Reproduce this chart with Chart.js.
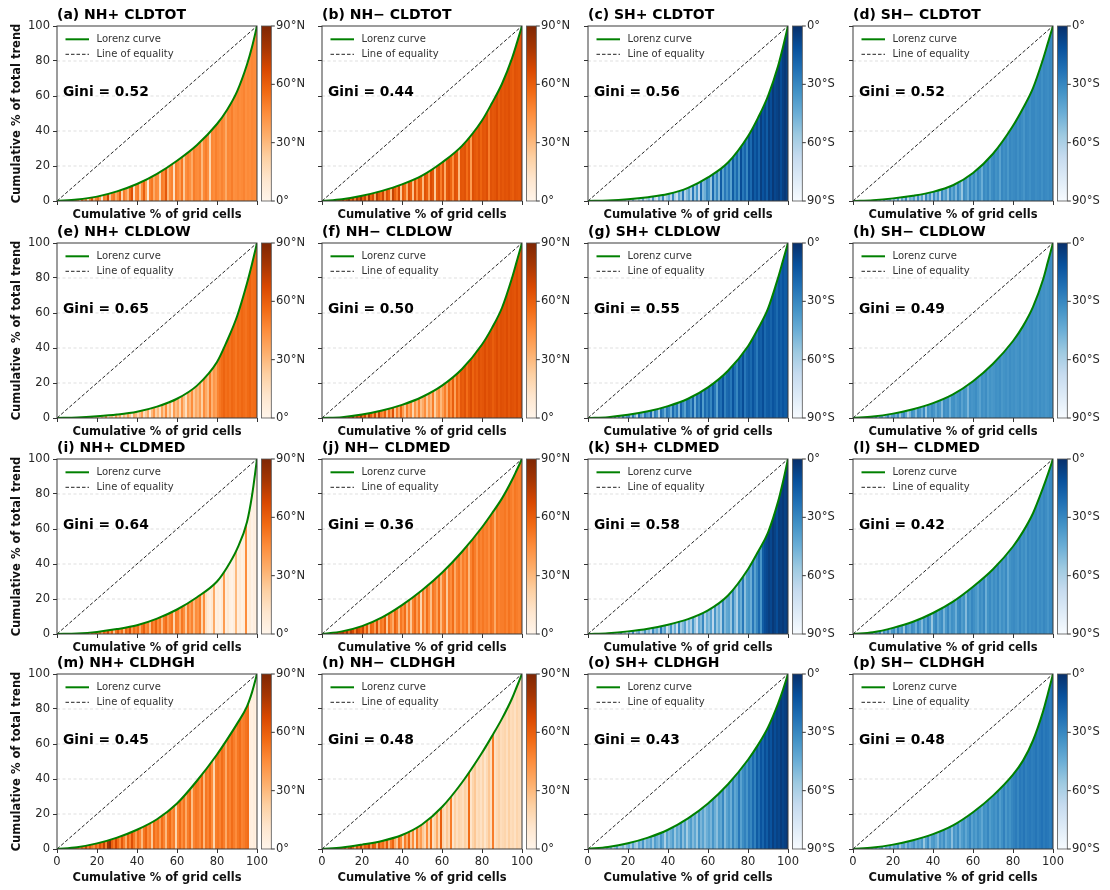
<!DOCTYPE html>
<html><head><meta charset="utf-8">
<script src="https://cdn.jsdelivr.net/npm/chart.js@4.4.1/dist/chart.umd.min.js"></script>
<style>
html,body{margin:0;padding:0;background:#fff;width:1110px;height:890px;overflow:hidden;position:relative}
canvas{position:absolute}
</style></head><body>
<script>
// ---------------- DATA ----------------
const xPct = [0,10,20,30,40,50,60,70,80,85,90,95,97.5,100];
const equalityX = [0,100];
const xTicks = [0,20,40,60,80,100];
const yTicks = [0,20,40,60,80,100];
const panelTitles = ['(a) NH+ CLDTOT','(b) NH\u2212 CLDTOT','(c) SH+ CLDTOT','(d) SH\u2212 CLDTOT',
  '(e) NH+ CLDLOW','(f) NH\u2212 CLDLOW','(g) SH+ CLDLOW','(h) SH\u2212 CLDLOW',
  '(i) NH+ CLDMED','(j) NH\u2212 CLDMED','(k) SH+ CLDMED','(l) SH\u2212 CLDMED',
  '(m) NH+ CLDHGH','(n) NH\u2212 CLDHGH','(o) SH+ CLDHGH','(p) SH\u2212 CLDHGH'];
const hemispheres = ['NH','NH','SH','SH','NH','NH','SH','SH','NH','NH','SH','SH','NH','NH','SH','SH'];
const giniValues = [0.52,0.44,0.56,0.52,0.65,0.50,0.55,0.49,0.64,0.36,0.58,0.42,0.45,0.48,0.43,0.48];
const cbTicksNH = [0,30,60,90];
const cbLabelsNH = ['0\u00b0','30\u00b0N','60\u00b0N','90\u00b0N'];
const cbTicksSH = [-90,-60,-30,0];
const cbLabelsSH = ['90\u00b0S','60\u00b0S','30\u00b0S','0\u00b0'];
const legendLabels = ['Lorenz curve','Line of equality'];

// Lorenz curves (cumulative % of total trend at xPct)
const lorenz_a = [0,0.8,2.5,5.5,9.7,15.5,23,32,44,52,62.5,78,88,100];
const lorenz_b = [0,1,3,5.8,9.5,14.5,22,31.5,46,56,67,81.5,90.5,100];
const lorenz_c = [0,0.3,1,2.2,4,7.5,13.5,22,37,47.5,60,77,88,100];
const lorenz_d = [0,0.5,1.5,3,5.2,9,16,27,43,53,64.5,81,90.5,100];
const lorenz_e = [0,0.3,1,2,3.6,6.5,11,18.5,32,44,58,77,88,100];
const lorenz_f = [0,0.5,2,4.3,7.5,12,18.5,28,42,51.5,63,80,90,100];
const lorenz_g = [0,0.5,1.8,3.8,6.8,11,17.5,27,41,51,62.5,80,90,100];
const lorenz_h = [0,0.8,2.5,5,8.5,13.5,21,31,44,52.5,63.5,79,89.5,100];
const lorenz_i = [0,0.3,1.2,2.8,5,8.8,14,21,30,38,48.5,64,79,100];
const lorenz_j = [0,1.5,4.5,9.5,16.5,25,35,47,61,69,77.5,88,94,100];
const lorenz_k = [0,0.5,1.5,3,5.3,8.5,13.5,22,37,47,58,75.5,87,100];
const lorenz_l = [0,1,3.5,7,12,18.5,27,37,50,58.5,69,83.5,91.5,100];
const lorenz_m = [0,1,3.2,6.5,11,17,26,39,54,62.5,71.5,81.5,89.5,100];
const lorenz_n = [0,0.8,2.5,4.6,8,14,24,38,55,64.5,74.5,86,93,100];
const lorenz_o = [0,1.2,3.3,6.5,11,17.5,26,37,51,59.5,69.5,83,91,100];
const lorenz_p = [0,0.8,2.5,5,8.5,13.5,21,30.5,42.5,50.5,62,78.5,89,100];

// latitude (deg) of grid cells, in order of cumulative %, 1% per entry
const lat_a = [40,30,50,20,45,35,55,25,40,50, 45,20,60,35,50,15,45,65,30,48, 55,40,10,50,45,70,25,48,52,35, 45,60,20,50,42,30,55,65,15,47, 50,25,45,60,40,10,48,52,35,46, 44,20,50,47,62,30,45,48,15,50, 46,40,52,25,45,48,44,35,50,46, 45,48,30,46,50,44,20,47,45,49, 46,44,48,45,35,47,46,50,44,45, 47,45,46,48,44,46,45,47,46,45];
const lat_b = [70,60,80,65,75,55,85,60,70,65, 80,55,70,85,60,75,50,78,65,82, 60,72,45,80,58,68,35,75,62,55, 70,40,65,58,30,72,60,50,68,25, 62,55,35,66,60,28,64,45,62,58, 30,64,60,40,66,62,25,60,64,50, 63,35,62,65,58,45,64,62,30,63, 62,64,55,63,40,65,62,60,64,58, 63,62,65,50,64,62,63,66,60,64, 62,64,63,65,62,60,64,63,62,64];
const lat_c = [-70,-80,-60,-75,-85,-65,-70,-80,-55,-75, -65,-80,-55,-75,-70,-85,-60,-72,-50,-78, -60,-75,-45,-70,-80,-55,-65,-40,-72,-60, -50,-70,-35,-65,-75,-45,-60,-30,-68,-55, -45,-65,-30,-60,-70,-40,-55,-25,-62,-50, -40,-60,-25,-55,-35,-65,-20,-50,-45,-30, -35,-55,-20,-45,-30,-50,-15,-40,-25,-35, -25,-40,-15,-30,-20,-35,-10,-25,-18,-30, -12,-20,-8,-15,-10,-18,-5,-12,-8,-15, -5,-10,-3,-8,-6,-4,-10,-5,-3,-6];
const lat_d = [-50,-60,-40,-70,-45,-55,-65,-35,-60,-50, -55,-40,-65,-45,-70,-35,-60,-50,-42,-65, -45,-60,-35,-70,-40,-55,-30,-65,-45,-50, -38,-60,-32,-55,-40,-65,-30,-50,-35,-58, -32,-50,-35,-60,-30,-45,-38,-55,-30,-42, -34,-48,-30,-40,-55,-32,-36,-45,-30,-38, -32,-40,-30,-35,-45,-31,-34,-30,-38,-32, -30,-34,-32,-40,-30,-33,-31,-36,-30,-32, -31,-30,-33,-30,-32,-35,-30,-31,-33,-30, -30,-32,-31,-30,-33,-30,-31,-32,-30,-31];
const lat_e = [20,10,30,15,25,5,35,12,28,20, 10,30,18,40,8,25,15,35,10,28, 20,12,32,18,45,10,25,30,15,40, 22,35,12,30,20,38,25,8,35,30, 18,28,40,15,25,35,10,30,42,22, 30,15,38,25,45,20,32,12,40,28, 35,20,42,28,15,38,30,45,25,35, 30,40,22,45,35,28,50,32,42,38, 48,52,55,58,54,56,53,57,55,52, 56,54,57,55,53,56,58,54,55,56];
const lat_f = [65,75,55,80,60,72,50,78,68,45, 70,80,55,75,65,85,50,72,60,78, 55,70,40,75,60,45,68,35,72,50, 45,60,30,55,40,65,25,50,35,58, 40,25,50,35,45,20,42,30,48,28, 35,45,25,40,30,50,22,38,45,30, 40,50,35,55,45,60,38,58,50,62, 60,64,55,62,66,58,63,60,65,62, 63,66,62,65,64,60,63,66,62,65, 64,63,66,62,65,64,63,66,62,65];
const lat_g = [-60,-70,-50,-75,-45,-65,-55,-70,-40,-60, -55,-35,-65,-30,-70,-40,-60,-25,-50,-35, -30,-55,-25,-45,-65,-20,-40,-50,-25,-35, -40,-20,-55,-28,-35,-60,-22,-30,-45,-25, -30,-45,-20,-35,-25,-50,-18,-30,-40,-22, -25,-35,-18,-45,-22,-30,-15,-38,-20,-28, -20,-30,-15,-25,-40,-18,-22,-12,-28,-20, -18,-25,-12,-22,-30,-15,-20,-10,-25,-18, -15,-20,-12,-18,-25,-14,-16,-10,-20,-15, -14,-18,-12,-15,-20,-13,-16,-12,-15,-14];
const lat_h = [-50,-40,-60,-35,-55,-45,-30,-65,-40,-35, -50,-30,-60,-40,-35,-55,-45,-30,-50,-38, -35,-45,-32,-55,-38,-30,-42,-60,-48,-33, -36,-50,-32,-35,-45,-30,-55,-34,-38,-32, -35,-42,-33,-36,-50,-32,-35,-33,-45,-34, -33,-38,-35,-32,-40,-34,-36,-48,-33,-35, -34,-32,-36,-40,-33,-35,-32,-38,-34,-36, -35,-33,-34,-32,-36,-34,-33,-35,-32,-34, -33,-35,-34,-32,-36,-33,-34,-35,-33,-32, -34,-33,-35,-32,-34,-33,-35,-34,-32,-33];
const lat_i = [55,65,40,60,50,70,45,62,35,58, 60,48,66,40,55,62,30,58,50,64, 45,55,35,60,50,68,42,58,25,52, 62,45,55,30,58,50,65,40,55,48, 55,35,52,60,45,50,28,55,48,58, 45,52,30,50,55,40,48,52,20,50, 48,35,52,45,25,50,40,48,30,45, 42,50,20,45,15,8,5,10,35,4, 6,3,8,40,5,10,4,2,6,30, 5,8,3,6,45,4,7,2,5,3];
const lat_j = [70,78,65,80,72,60,75,82,68,74, 78,62,80,55,75,68,50,72,65,58, 70,45,62,30,58,55,40,65,35,52, 48,60,25,55,45,35,58,50,28,52, 45,55,30,50,25,48,55,40,52,20, 50,35,55,45,28,52,48,38,55,30, 48,52,25,50,45,55,35,48,52,40, 50,45,52,30,48,55,50,42,52,48, 52,48,50,45,53,50,35,52,48,50, 50,52,48,53,50,47,52,50,48,51];
const lat_k = [-70,-60,-80,-55,-75,-65,-50,-70,-60,-45, -65,-75,-40,-60,-70,-50,-35,-65,-55,-72, -45,-60,-30,-68,-50,-40,-62,-55,-35,-58, -48,-65,-30,-52,-45,-60,-25,-50,-40,-70, -55,-35,-62,-45,-70,-30,-58,-50,-40,-65, -48,-60,-35,-55,-70,-42,-50,-30,-62,-45, -52,-40,-65,-35,-55,-45,-60,-30,-50,-42, -40,-55,-30,-48,-60,-35,-45,-25,-52,-38, -35,-45,-25,-40,-30,-20,-35,-15,-10,-8, -5,-8,-3,-6,-10,-4,-5,-3,-6,-4];
const lat_l = [-40,-55,-30,-60,-35,-45,-25,-50,-38,-30, -55,-35,-42,-28,-60,-33,-45,-30,-50,-36, -32,-48,-28,-40,-35,-55,-30,-38,-42,-32, -35,-45,-30,-38,-50,-33,-40,-28,-36,-55, -34,-30,-42,-35,-32,-48,-36,-30,-40,-33, -35,-45,-32,-30,-38,-34,-50,-32,-36,-30, -33,-36,-40,-32,-35,-30,-45,-34,-31,-36, -32,-35,-30,-38,-33,-36,-31,-42,-34,-32, -31,-33,-35,-30,-34,-32,-36,-30,-33,-31, -32,-30,-34,-31,-33,-30,-32,-35,-31,-30];
const lat_m = [50,60,45,55,70,40,65,50,55,60, 55,45,60,50,70,48,62,52,45,58, 50,65,55,72,48,80,85,60,52,68, 55,45,62,50,35,58,48,65,52,40, 55,48,30,52,58,45,50,25,55,48, 52,40,55,48,30,52,56,45,50,20, 48,55,45,52,35,50,55,28,48,52, 50,45,55,30,52,48,55,45,20,50, 52,48,55,50,35,52,48,55,50,45, 52,55,48,50,53,55,5,4,6,3];
const lat_n = [60,70,55,75,50,65,72,45,68,60, 55,70,40,62,75,58,35,65,50,72, 45,60,55,70,40,62,58,30,65,50, 55,40,62,30,50,58,35,25,55,45, 20,50,35,58,25,45,15,52,30,40, 25,18,45,20,55,15,22,35,18,60, 20,15,25,18,50,12,22,15,20,18, 15,22,18,55,12,20,25,15,18,14, 20,12,18,25,15,50,14,18,22,16, 18,20,15,22,16,18,14,20,17,15];
const lat_o = [-60,-50,-70,-55,-65,-45,-60,-55,-70,-50, -58,-45,-65,-52,-40,-60,-55,-48,-62,-50, -45,-58,-40,-55,-60,-42,-50,-35,-55,-45, -48,-40,-55,-38,-45,-50,-35,-42,-60,-40, -50,-45,-38,-55,-42,-48,-35,-52,-40,-58, -45,-38,-50,-42,-55,-35,-48,-40,-52,-45, -40,-48,-35,-45,-52,-38,-42,-30,-50,-40, -35,-45,-30,-42,-38,-25,-40,-32,-28,-35, -25,-30,-20,-28,-15,-22,-12,-18,-10,-15, -8,-12,-5,-10,-6,-8,-4,-7,-5,-3];
const lat_p = [-45,-55,-40,-60,-50,-35,-55,-45,-65,-40, -50,-38,-55,-45,-35,-60,-42,-48,-38,-52, -40,-45,-35,-55,-42,-38,-50,-36,-44,-40, -35,-45,-38,-42,-36,-55,-40,-32,-48,-38, -36,-42,-50,-35,-40,-33,-45,-38,-36,-52, -35,-40,-32,-45,-38,-34,-42,-36,-30,-40, -34,-38,-32,-36,-42,-33,-35,-30,-38,-34, -32,-35,-30,-38,-33,-28,-36,-31,-34,-30, -28,-26,-30,-25,-27,-24,-28,-26,-25,-27, -26,-24,-27,-25,-23,-26,-24,-25,-27,-24];

const lorenzSeries = [lorenz_a,lorenz_b,lorenz_c,lorenz_d,lorenz_e,lorenz_f,lorenz_g,lorenz_h,lorenz_i,lorenz_j,lorenz_k,lorenz_l,lorenz_m,lorenz_n,lorenz_o,lorenz_p];
const latSeries = [lat_a,lat_b,lat_c,lat_d,lat_e,lat_f,lat_g,lat_h,lat_i,lat_j,lat_k,lat_l,lat_m,lat_n,lat_o,lat_p];

// ---------------- STYLE ----------------
const ORANGES = ['#fff5eb','#fee6ce','#fdd0a2','#fdae6b','#fd8d3c','#f16913','#d94801','#a63603','#7f2704'];
const BLUES = ['#f7fbff','#deebf7','#c6dbef','#9ecae1','#6baed6','#4292c6','#2171b5','#08519c','#08306b'];
const COL_LEFT = [0,265,531,796];
const ROW_TOP = [0,217,433,648];
const FONT = '"DejaVu Sans", sans-serif';
Chart.defaults.font.family = FONT;

function hexToRgb(h){ return [parseInt(h.slice(1,3),16),parseInt(h.slice(3,5),16),parseInt(h.slice(5,7),16)]; }
function cmap(stops, t){
  t = Math.max(0, Math.min(1, t));
  const p = t*(stops.length-1);
  const i = Math.min(Math.floor(p), stops.length-2);
  const f = p - i;
  const a = hexToRgb(stops[i]), b = hexToRgb(stops[i+1]);
  return 'rgb(' + [0,1,2].map(j => Math.round(a[j]+(b[j]-a[j])*f)).join(',') + ')';
}
function latFrac(hemi, lat){ return hemi === 'NH' ? lat/90 : (lat+90)/90; }

function stripeFill(chart, hemi, lats){
  const a = chart.chartArea;
  if (!a || !chart.scales.x) return 'rgba(0,0,0,0)';
  const xs = chart.scales.x;
  const x0 = xs.getPixelForValue(0), x1 = xs.getPixelForValue(100);
  const g = chart.ctx.createLinearGradient(x0, 0, x1, 0);
  const n = lats.length;
  const stops = hemi === 'NH' ? ORANGES : BLUES;
  lats.forEach((lat, i) => {
    const c = cmap(stops, latFrac(hemi, lat));
    g.addColorStop(i/n, c);
    g.addColorStop((i+1)/n, c);
  });
  return g;
}

const decoPlugin = {
  id: 'deco',
  beforeDatasetsDraw(chart){
    const {ctx, chartArea: a, scales: {y}} = chart;
    ctx.save();
    ctx.strokeStyle = 'rgba(0,0,0,0.16)';
    ctx.lineWidth = 0.8;
    ctx.setLineDash([3,2.5]);
    [20,40,60,80].forEach(v => {
      const py = y.getPixelForValue(v);
      ctx.beginPath(); ctx.moveTo(a.left, py); ctx.lineTo(a.right, py); ctx.stroke();
    });
    ctx.restore();
  },
  afterDraw(chart){
    const {ctx, chartArea: a, scales: {x, y, cb}} = chart;
    const o = chart.options.plugins.deco;
    ctx.save();
    // frame
    ctx.strokeStyle = '#3a3a3a'; ctx.lineWidth = 1;
    ctx.strokeRect(a.left, a.top, a.right - a.left, a.bottom - a.top);
    // title
    ctx.fillStyle = '#000';
    ctx.font = 'bold 14px ' + FONT;
    ctx.textBaseline = 'middle'; ctx.textAlign = 'left';
    ctx.fillText(o.title, a.left, a.top - 11);
    // legend
    const lx0 = a.left + 8.5, lx1 = a.left + 32;
    ctx.lineWidth = 2; ctx.strokeStyle = 'green'; ctx.setLineDash([]);
    ctx.beginPath(); ctx.moveTo(lx0, a.top + 13.3); ctx.lineTo(lx1, a.top + 13.3); ctx.stroke();
    ctx.lineWidth = 1; ctx.strokeStyle = '#222'; ctx.setLineDash([3.5,2]);
    ctx.beginPath(); ctx.moveTo(lx0, a.top + 28.3); ctx.lineTo(lx1, a.top + 28.3); ctx.stroke();
    ctx.setLineDash([]);
    ctx.fillStyle = '#333'; ctx.font = '10px ' + FONT;
    ctx.fillText(legendLabels[0], a.left + 39.5, a.top + 13.3);
    ctx.fillText(legendLabels[1], a.left + 39.5, a.top + 28.3);
    // Gini
    ctx.fillStyle = '#000'; ctx.font = 'bold 13.8px ' + FONT;
    ctx.fillText('Gini = ' + o.gini.toFixed(2), x.getPixelForValue(3), y.getPixelForValue(62));
    // colorbar
    const cx = a.right + 4.5, cw = 9.8;
    const cTop = cb.getPixelForValue(cb.max), cBot = cb.getPixelForValue(cb.min);
    const stops = o.hemi === 'NH' ? ORANGES : BLUES;
    const g = ctx.createLinearGradient(0, cBot, 0, cTop);
    stops.forEach((c, i) => g.addColorStop(i/(stops.length-1), c));
    ctx.fillStyle = g;
    ctx.fillRect(cx, cTop, cw, cBot - cTop);
    ctx.strokeStyle = '#555'; ctx.lineWidth = 0.8;
    ctx.strokeRect(cx, cTop, cw, cBot - cTop);
    ctx.strokeStyle = '#333'; ctx.lineWidth = 1;
    (o.hemi === 'NH' ? cbTicksNH : cbTicksSH).forEach(v => {
      const py = cb.getPixelForValue(v);
      ctx.beginPath(); ctx.moveTo(cx + cw, py); ctx.lineTo(cx + cw + 3.5, py); ctx.stroke();
    });
    ctx.restore();
  }
};

panelTitles.forEach((title, k) => {
  const col = k % 4, row = Math.floor(k / 4);
  const hemi = hemispheres[k];
  const lats = latSeries[k];
  const cv = document.createElement('canvas');
  cv.width = 322; cv.height = 240;
  cv.style.left = COL_LEFT[col] + 'px';
  cv.style.top = ROW_TOP[row] + 'px';
  document.body.appendChild(cv);
  const cbTicks = hemi === 'NH' ? cbTicksNH : cbTicksSH;
  const cbLabels = hemi === 'NH' ? cbLabelsNH : cbLabelsSH;
  new Chart(cv, {
    type: 'line',
    data: {
      datasets: [
        { label: legendLabels[0], data: xPct.map((xv, i) => ({x: xv, y: lorenzSeries[k][i]})),
          borderColor: 'green', borderWidth: 2, pointRadius: 0, cubicInterpolationMode: 'monotone',
          fill: 'origin', backgroundColor: c => stripeFill(c.chart, hemi, lats), order: 0 },
        { label: legendLabels[1], data: equalityX.map(v => ({x: v, y: v})),
          borderColor: '#222', borderWidth: 1, borderDash: [3.5,2], pointRadius: 0, fill: false, order: 1 }
      ]
    },
    options: {
      responsive: false, animation: false, devicePixelRatio: 1,
      layout: { padding: { top: 26, left: 0, right: 0, bottom: 0 } },
      plugins: {
        legend: { display: false }, tooltip: { enabled: false }, title: { display: false },
        deco: { title: title, gini: giniValues[k], hemi: hemi }
      },
      scales: {
        x: {
          type: 'linear', position: 'bottom', min: 0, max: 100,
          afterBuildTicks: s => { s.ticks = xTicks.map(v => ({value: v})); },
          ticks: { padding: 2, color: '#262626', font: { size: 11.5 }, maxRotation: 0, autoSkip: false,
                   callback: v => row === 3 ? String(v) : '' },
          grid: { drawOnChartArea: false, drawTicks: true, tickLength: 4, tickColor: '#333', tickWidth: 1, color: '#333' },
          border: { display: false },
          title: { display: true, text: 'Cumulative % of grid cells', color: '#111',
                   font: { size: 11.5, weight: 'bold' }, padding: { top: 0, bottom: row === 3 ? 3 : 18 } },
          afterFit: s => { s.height = 39; }
        },
        y: {
          type: 'linear', position: 'left', min: 0, max: 100,
          afterBuildTicks: s => { s.ticks = yTicks.map(v => ({value: v})); },
          ticks: { padding: 3, color: '#262626', font: { size: 11.5 },
                   callback: v => col === 0 ? String(v) : '' },
          grid: { drawOnChartArea: false, drawTicks: true, tickLength: 4, tickColor: '#333', tickWidth: 1, color: '#333' },
          border: { display: false },
          title: { display: col === 0, text: 'Cumulative % of total trend', color: '#111',
                   font: { size: 11.5, weight: 'bold' }, padding: { top: 9.8, bottom: 0 } },
          afterFit: s => { s.width = 57; }
        },
        cb: {
          type: 'linear', axis: 'y', position: 'right',
          min: cbTicks[0], max: cbTicks[cbTicks.length - 1],
          afterBuildTicks: s => { s.ticks = cbTicks.map(v => ({value: v})); },
          ticks: { padding: 19, color: '#262626', font: { size: 11.5 },
                   callback: v => cbLabels[cbTicks.indexOf(v)] },
          grid: { display: false, drawTicks: false, drawOnChartArea: false },
          border: { display: false },
          afterFit: s => { s.width = 65; }
        }
      }
    },
    plugins: [decoPlugin]
  });
});
</script>
</body></html>
